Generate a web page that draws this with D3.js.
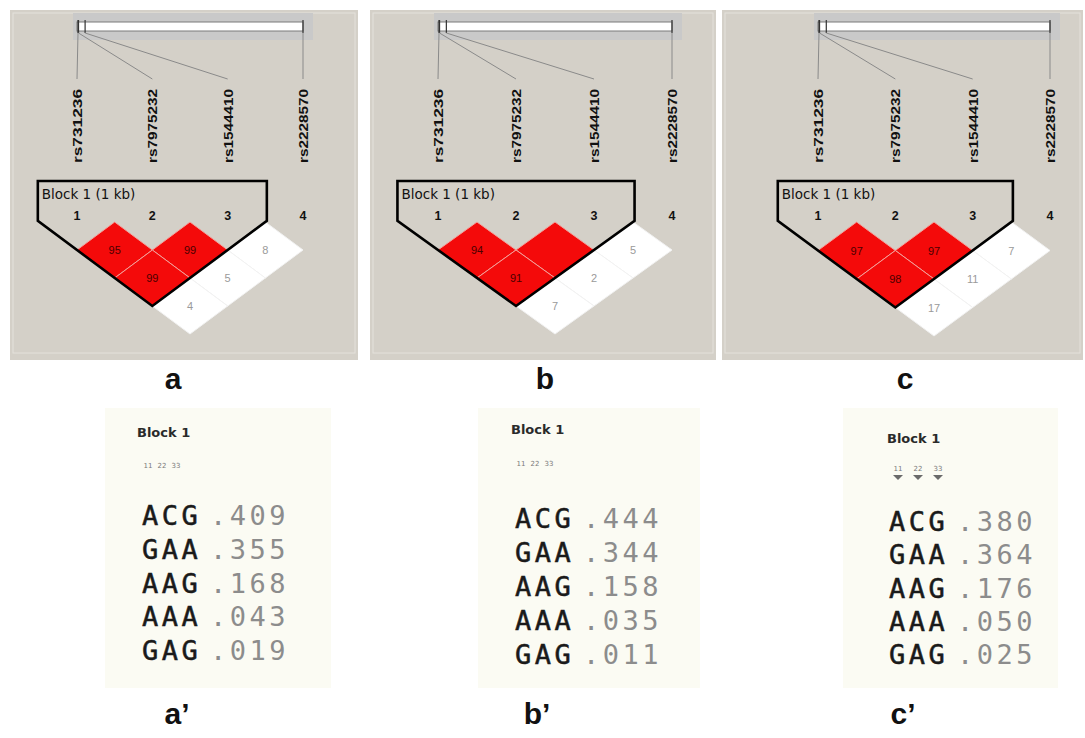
<!DOCTYPE html>
<html>
<head>
<meta charset="utf-8">
<script src="https://cdn.jsdelivr.net/npm/d3@7"></script>
<style>
  body { margin: 0; background: #ffffff; }
  svg { display: block; }
</style>
</head>
<body>
<script>
// ---- Data -------------------------------------------------------------
// VDR markers and their chromosome 12 positions (bp)
const snpNames = ["rs731236", "rs7975232", "rs1544410", "rs2228570"];
const snpPositions = [48238757, 48238837, 48239835, 48272895];
const snpNumbers = ["1", "2", "3", "4"];

// Marker pairs drawn as LD cells (1-based marker indices)
const ldPairs = [[1, 2], [2, 3], [1, 3], [3, 4], [2, 4], [1, 4]];
// D' x 100 for each pair, one array per population
const ldA = [95, 99, 99, 8, 5, 4];
const ldB = [94, 100, 91, 5, 2, 7];
const ldC = [97, 97, 98, 7, 11, 17];

const blockMarkers = [1, 2, 3];
const blockTitle = "Block 1 (1 kb)";
const panelLabels = ["a", "b", "c"];

// Haplotype frequencies within block 1
const haplotypes = ["ACG", "GAA", "AAG", "AAA", "GAG"];
const freqA = [0.409, 0.355, 0.168, 0.043, 0.019];
const freqB = [0.444, 0.344, 0.158, 0.035, 0.011];
const freqC = [0.380, 0.364, 0.176, 0.050, 0.025];
const hapTitle = "Block 1";
const hapMarkerTags = ["1", "2", "3"];
const hapLabels = ["a\u2019", "b\u2019", "c\u2019"];

// ---- Layout -----------------------------------------------------------
const W = 1085, H = 738;
const svg = d3.select("body").append("svg").attr("width", W).attr("height", H);

const ldLayout = [
  { x: 10,  w: 348, x1: 77,  x4: 303,  hh: 28,   labelX: 173, values: ldA },
  { x: 370, w: 346, x1: 438, x4: 672,  hh: 28,   labelX: 545, values: ldB },
  { x: 722, w: 361, x1: 818, x4: 1050, hh: 28.5, labelX: 905, values: ldC }
];

const tableLayout = [
  { bx: 105, bw: 226, titleX: 137, titleY: 437, x0: 142, r0: 515, r1: 650, tagY: 468, tagW: 14, tri: false, labelX: 177, freqs: freqA },
  { bx: 478, bw: 222, titleX: 511, titleY: 434, x0: 515, r0: 518, r1: 654, tagY: 466, tagW: 14, tri: false, labelX: 537, freqs: freqB },
  { bx: 843, bw: 215, titleX: 887, titleY: 443, x0: 889, r0: 521, r1: 654, tagY: 471, tagW: 20, tri: true,  labelX: 903, freqs: freqC }
];

const redScale = d3.scaleThreshold().domain([50]).range(["#ffffff", "#f40a0a"]);
const fmtFreq = v => d3.format(".3f")(v).replace(/^0/, "");

// ---- LD plots ---------------------------------------------------------
ldLayout.forEach((p, k) => {
  const g = svg.append("g");
  const xSnp = d3.scalePoint().domain(snpNumbers).range([p.x1, p.x4]);
  const s = xSnp.step();
  const xGen = d3.scaleLinear().domain(d3.extent(snpPositions)).range([p.x1 + 1, p.x4]);

  // panel background
  g.append("rect").attr("x", p.x).attr("y", 10).attr("width", p.w).attr("height", 350)
    .attr("fill", "#d4d0c8");
  g.append("rect").attr("x", p.x + 3).attr("y", 13).attr("width", p.w - 6).attr("height", 340)
    .attr("fill", "none").attr("stroke", "#e4e1db").attr("stroke-width", 1);

  // chromosome strip
  g.append("rect").attr("x", p.x1 - 4).attr("y", 13).attr("width", p.x4 - p.x1 + 14).attr("height", 27)
    .attr("fill", "#c9c9c9");
  g.append("rect").attr("x", p.x1).attr("y", 22).attr("width", p.x4 - p.x1).attr("height", 9)
    .attr("fill", "#ffffff").attr("stroke", "#7a7a7a").attr("stroke-width", 1);

  // marker ticks and connectors to the labels
  snpPositions.forEach((pos, i) => {
    const gx = xGen(pos);
    g.append("line").attr("x1", gx).attr("x2", gx).attr("y1", 20).attr("y2", 33)
      .attr("stroke", "#333").attr("stroke-width", 1.2);
    g.append("line").attr("x1", gx).attr("y1", 33)
      .attr("x2", xSnp(snpNumbers[i])).attr("y2", 79)
      .attr("stroke", "#8a8a8a").attr("stroke-width", 1);
  });

  // marker names, vertical
  snpNames.forEach((name, i) => {
    const cx = xSnp(snpNumbers[i]);
    g.append("text")
      .attr("transform", `translate(${cx + 5},163) rotate(-90)`)
      .attr("text-anchor", "start")
      .attr("textLength", 74).attr("lengthAdjust", "spacingAndGlyphs")
      .attr("font-family", "Liberation Sans, Arial, sans-serif")
      .attr("font-weight", "bold").attr("font-size", 13)
      .attr("fill", "#111").text(name);
  });

  // LD cells
  const yTop = 222;
  const cells = ldPairs.map(([a, b], i) => ({ a, b, v: p.values[i] }));
  cells.forEach(c => {
    const cx = (xSnp(String(c.a)) + xSnp(String(c.b))) / 2;
    const cy = yTop + (c.b - c.a) * p.hh;
    const red = redScale(c.v) !== "#ffffff";
    g.append("path")
      .attr("d", `M${cx},${cy - p.hh}L${cx + s / 2},${cy}L${cx},${cy + p.hh}L${cx - s / 2},${cy}Z`)
      .attr("fill", redScale(c.v))
      .attr("stroke", red ? "#f3a09a" : "#f2f2f2").attr("stroke-width", 1);
    if (c.v < 100) {
      g.append("text").attr("x", cx).attr("y", cy + 4)
        .attr("text-anchor", "middle")
        .attr("font-family", "Liberation Sans, Arial, sans-serif")
        .attr("font-size", 11)
        .attr("fill", red ? "#4a0000" : "#9a9a9a")
        .text(c.v);
    }
  });

  // block outline
  const xa = xSnp(String(blockMarkers[0])), xb = xSnp(String(blockMarkers[blockMarkers.length - 1]));
  const off = 0.52 * s;
  const slope = p.hh / (s / 2);
  const yEdge = yTop + p.hh - off * slope;
  const span = blockMarkers.length - 1;
  const bottomY = yTop + (span + 1) * p.hh;
  const outline = [
    [xa - off, 181], [xb + off, 181], [xb + off, yEdge],
    [(xa + xb) / 2, bottomY], [xa - off, yEdge]
  ];
  g.append("path").attr("d", d3.line()(outline) + "Z")
    .attr("fill", "none").attr("stroke", "#000").attr("stroke-width", 2.6)
    .attr("stroke-linejoin", "miter");

  g.append("text").attr("x", xa - off + 4).attr("y", 199)
    .attr("font-family", "DejaVu Sans, sans-serif").attr("font-size", 13.5)
    .attr("fill", "#111").text(blockTitle);

  // marker numbers
  snpNumbers.forEach(n => {
    g.append("text").attr("x", xSnp(n)).attr("y", 220)
      .attr("text-anchor", "middle")
      .attr("font-family", "Liberation Sans, Arial, sans-serif")
      .attr("font-weight", "bold").attr("font-size", 12.5)
      .attr("fill", "#111").text(n);
  });

  // panel letter
  svg.append("text").attr("x", p.labelX).attr("y", 389)
    .attr("text-anchor", "middle")
    .attr("font-family", "Liberation Sans, Arial, sans-serif")
    .attr("font-weight", "bold").attr("font-size", 30)
    .attr("fill", "#111").text(panelLabels[k]);
});

// ---- Haplotype tables -------------------------------------------------
tableLayout.forEach((t, k) => {
  const g = svg.append("g");
  g.append("rect").attr("x", t.bx).attr("y", 408).attr("width", t.bw).attr("height", 280)
    .attr("fill", "#fbfbf3");

  g.append("text").attr("x", t.titleX).attr("y", t.titleY)
    .attr("font-family", "DejaVu Sans, sans-serif").attr("font-weight", "bold")
    .attr("font-size", 13).attr("fill", "#2a2a2a").text(hapTitle);

  // marker tags above allele columns
  hapMarkerTags.forEach((m, i) => {
    const mx = t.x0 + 6 + i * t.tagW + (t.tri ? 3 : 0);
    g.append("text").attr("x", mx).attr("y", t.tagY)
      .attr("text-anchor", "middle")
      .attr("font-family", "DejaVu Sans, sans-serif").attr("font-size", 7)
      .attr("fill", "#7a7a7a").text(m + m);
    if (t.tri) {
      g.append("path")
        .attr("d", `M${mx - 5},${t.tagY + 4}L${mx + 5},${t.tagY + 4}L${mx},${t.tagY + 9}Z`)
        .attr("fill", "#6a6a6a");
    }
  });

  const yRow = d3.scalePoint().domain(haplotypes).range([t.r0, t.r1]);
  haplotypes.forEach((h, i) => {
    const y = yRow(h) + 10;
    g.append("text").attr("x", t.x0).attr("y", y)
      .attr("font-family", "DejaVu Sans Mono, monospace").attr("font-size", 27)
      .attr("letter-spacing", 3.5)
      .attr("fill", "#1a1a1a").attr("stroke", "#1a1a1a").attr("stroke-width", 0.5)
      .text(h);
    g.append("text").attr("x", t.x0 + 68).attr("y", y)
      .attr("font-family", "DejaVu Sans Mono, monospace").attr("font-size", 27)
      .attr("letter-spacing", 3.5)
      .attr("fill", "#8c8c8c").text(fmtFreq(t.freqs[i]));
  });

  svg.append("text").attr("x", t.labelX).attr("y", 724)
    .attr("text-anchor", "middle")
    .attr("font-family", "Liberation Sans, Arial, sans-serif")
    .attr("font-weight", "bold").attr("font-size", 30)
    .attr("fill", "#111").text(hapLabels[k]);
});
</script>
</body>
</html>
